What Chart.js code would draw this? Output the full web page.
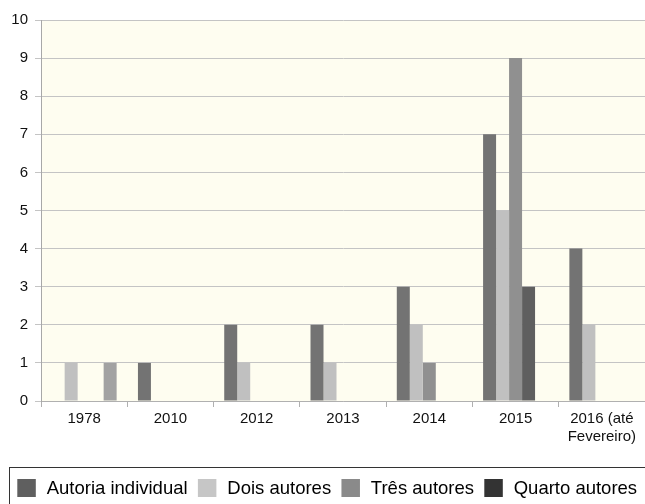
<!DOCTYPE html>
<html>
<head>
<meta charset="utf-8">
<script src="https://cdn.jsdelivr.net/npm/chart.js@4.4.1/dist/chart.umd.min.js"></script>
<style>
html,body{margin:0;padding:0;background:#fff;}
#wrap{width:645px;height:504px;position:relative;}
</style>
</head>
<body>
<div id="wrap"><canvas id="c" width="645" height="504"></canvas></div>
<script>
const categories = ['1978', '2010', '2012', '2013', '2014', '2015', ['2016 (até', 'Fevereiro)']];
const autoriaIndividual = [0, 1, 2, 2, 3, 7, 4];
const doisAutores = [1, 0, 1, 1, 2, 5, 2];
const tresAutores = [0, 0, 0, 0, 1, 9, 0];
const quartoAutores = [0, 0, 0, 0, 0, 3, 0];
const quintaSerie = [1, 0, 0, 0, 0, 0, 0];
const seriesNames = ['Autoria individual', 'Dois autores', 'Três autores', 'Quarto autores', ''];
const yTicks = [0, 1, 2, 3, 4, 5, 6, 7, 8, 9, 10];

const barColors = ['#737373', '#c0c0c0', '#909090', '#5f5f5f', '#a2a2a2'];
const legendColors = ['#5f5f5f', '#c6c6c6', '#8a8a8a', '#333333', '#a2a2a2'];
const FONT = '"Liberation Sans", Arial, Helvetica, sans-serif';

const bgPlugin = {
  id: 'bg',
  beforeDraw(chart) {
    const {ctx, chartArea: a} = chart;
    ctx.save();
    ctx.fillStyle = '#fefdf0';
    ctx.fillRect(a.left, a.top, a.right - a.left, a.bottom - a.top);
    ctx.restore();
  },
  afterDraw(chart) {
    const ctx = chart.ctx;
    ctx.save();
    // legend frame (cut off at the right/bottom like the reference)
    ctx.strokeStyle = '#333';
    ctx.lineWidth = 1;
    ctx.strokeRect(9.5, 467.5, 700, 100);
    // legend items
    ctx.font = '18.5px ' + FONT;
    ctx.textBaseline = 'middle';
    ctx.textAlign = 'left';
    let x = 17.3;
    const yMid = 488;
    chart.data.datasets.forEach((ds, i) => {
      if (!ds.label) return;
      ctx.fillStyle = legendColors[i];
      ctx.fillRect(x, yMid - 9, 18.5, 18);
      ctx.fillStyle = '#000';
      const tx = x + 29.4;
      ctx.fillText(ds.label, tx, yMid + 1);
      x = tx + ctx.measureText(ds.label).width + 10.3;
    });
    ctx.restore();
  }
};

const allSeries = [autoriaIndividual, doisAutores, tresAutores, quartoAutores, quintaSerie];

new Chart(document.getElementById('c'), {
  type: 'bar',
  data: {
    labels: categories,
    datasets: allSeries.map((d, i) => ({
      label: seriesNames[i],
      data: d,
      backgroundColor: barColors[i],
      borderWidth: 0
    }))
  },
  options: {
    responsive: false,
    animation: false,
    devicePixelRatio: 1,
    categoryPercentage: 0.753,
    barPercentage: 1.0,
    layout: {padding: {top: 20, right: 0, left: 0, bottom: 40}},
    plugins: {
      tooltip: {enabled: false},
      legend: {display: false}
    },
    scales: {
      x: {
        grid: {
          display: true,
          drawOnChartArea: false,
          offset: true,
          tickLength: 6,
          color: '#b0b0b0'
        },
        border: {display: true, color: '#b0b0b0'},
        ticks: {
          font: {family: FONT, size: 15},
          color: '#111',
          maxRotation: 0,
          autoSkip: false,
          padding: 3
        },
        afterFit(scale) { scale.height = 63; }
      },
      y: {
        min: 0,
        max: 10,
        afterBuildTicks(scale) { scale.ticks = yTicks.map(v => ({value: v})); },
        grid: {color: '#c4c4c4', tickLength: 6, drawTicks: true},
        border: {display: true, color: '#a8a8a8'},
        ticks: {
          font: {family: FONT, size: 15},
          color: '#111',
          padding: 7
        },
        afterFit(scale) { scale.width = 41; }
      }
    }
  },
  plugins: [bgPlugin]
});
</script>
</body>
</html>
